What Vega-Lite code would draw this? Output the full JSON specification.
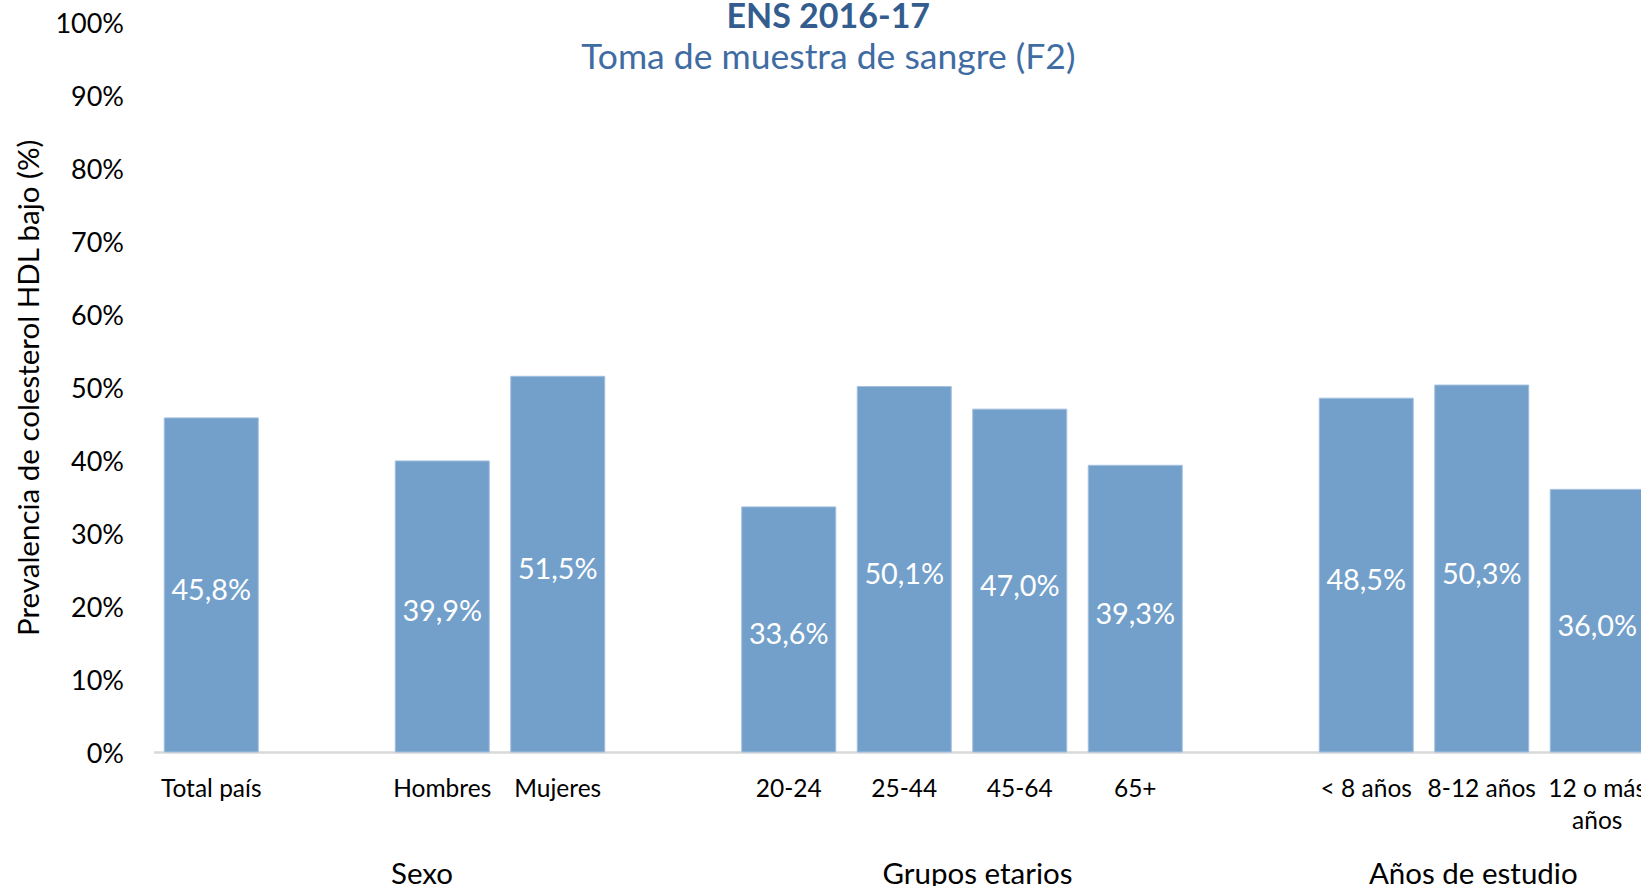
{
  "$schema": "https://vega.github.io/schema/vega-lite/v6.json",
  "autosize": {"type": "none"},
  "width": 1487.5,
  "height": 729.5,
  "padding": {"left": 153.5, "top": 22.5, "right": 0, "bottom": 134},
  "background": "white",
  "config": {
    "locale": {"number": {"decimal": ",", "thousands": ".", "grouping": [3], "currency": ["", " €"]}},
    "view": {"stroke": null},
    "font": "Lato"
  },
  "title": {
    "text": "ENS 2016-17",
    "subtitle": "Toma de muestra de sangre (F2)",
    "anchor": "middle",
    "frame": "group",
    "dx": -69,
    "offset": -66,
    "font": "Lato",
    "fontSize": 34,
    "fontWeight": "bold",
    "color": "#335d8f",
    "subtitleFont": "Lato",
    "subtitleFontSize": 35.5,
    "subtitleColor": "#3f6ca2",
    "subtitlePadding": 6
  },
  "datasets": {
    "barras": [
      {"categoria": "Total país", "valor": 0.458},
      {"categoria": "Hombres", "valor": 0.399},
      {"categoria": "Mujeres", "valor": 0.515},
      {"categoria": "20-24", "valor": 0.336},
      {"categoria": "25-44", "valor": 0.501},
      {"categoria": "45-64", "valor": 0.470},
      {"categoria": "65+", "valor": 0.393},
      {"categoria": "< 8 años", "valor": 0.485},
      {"categoria": "8-12 años", "valor": 0.503},
      {"categoria": "12 o más años", "valor": 0.360}
    ],
    "grupos": [
      {"categoria": "Hombres", "grupo": "Sexo"},
      {"categoria": "45-64", "grupo": "Grupos etarios"},
      {"categoria": "8-12 años", "grupo": "Años de estudio"}
    ]
  },
  "layer": [
    {
      "data": {"name": "barras"},
      "mark": {"type": "bar", "color": "#73a0ca", "stroke": "#a3c0df", "strokeWidth": 1},
      "encoding": {
        "x": {
          "field": "categoria", "type": "nominal", "sort": null,
          "scale": {"domain": ["Total país", "hueco1", "Hombres", "Mujeres", "hueco2", "20-24", "25-44", "45-64", "65+", "hueco3", "< 8 años", "8-12 años", "12 o más años"], "range": [0, 1501.5], "paddingInner": 0.186, "paddingOuter": 0.093},
          "axis": {
            "title": null, "ticks": false, "domainColor": "#d9d9d9", "domainWidth": 2.5,
            "labelAngle": 0, "labelFont": "Lato", "labelFontSize": 24.5, "labelColor": "black",
            "labelPadding": 25, "labelLineHeight": 32, "labelOverlap": false, "labelLimit": 0,
            "labelExpr": "indexof(datum.value, 'hueco') == 0 ? '' : (datum.value == '12 o más años' ? ['12 o más', 'años'] : datum.value)"
          }
        },
        "y": {
          "field": "valor", "type": "quantitative",
          "scale": {"domain": [0, 1], "nice": false},
          "axis": {
            "title": "Prevalencia de colesterol HDL bajo (%)", "titleFont": "Lato", "titleFontSize": 29.5,
            "titleFontWeight": "normal", "titleColor": "black", "titlePadding": 10,
            "format": ".0%", "values": [0, 0.1, 0.2, 0.3, 0.4, 0.5, 0.6, 0.7, 0.8, 0.9, 1],
            "grid": false, "domain": false, "ticks": false, "tickSize": 0, "labelOffset": 2,
            "labelFont": "Lato", "labelFontSize": 27, "labelColor": "black", "labelPadding": 30
          }
        }
      }
    },
    {
      "data": {"name": "barras"},
      "mark": {"type": "text", "color": "white", "fontSize": 28.8, "font": "Lato", "baseline": "middle", "dy": 6},
      "encoding": {
        "x": {"field": "categoria", "type": "nominal", "sort": null,
          "scale": {"domain": ["Total país", "hueco1", "Hombres", "Mujeres", "hueco2", "20-24", "25-44", "45-64", "65+", "hueco3", "< 8 años", "8-12 años", "12 o más años"]}},
        "y": {"field": "valor", "type": "quantitative", "scale": {"domain": [0, 2], "nice": false}, "axis": null},
        "text": {"field": "valor", "type": "quantitative", "format": ".1%"}
      }
    },
    {
      "data": {"name": "grupos"},
      "transform": [{"filter": "datum.grupo == 'Sexo'"}],
      "mark": {"type": "text", "color": "black", "fontSize": 29.5, "font": "Lato", "baseline": "alphabetic"},
      "encoding": {
        "x": {"field": "categoria", "type": "nominal", "sort": null, "bandPosition": 0.285,
          "scale": {"domain": ["Total país", "hueco1", "Hombres", "Mujeres", "hueco2", "20-24", "25-44", "45-64", "65+", "hueco3", "< 8 años", "8-12 años", "12 o más años"]}},
        "y": {"datum": -0.181, "type": "quantitative", "scale": {"domain": [0, 1], "nice": false}, "axis": null},
        "text": {"field": "grupo"}
      }
    },
    {
      "data": {"name": "grupos"},
      "transform": [{"filter": "datum.grupo == 'Grupos etarios'"}],
      "mark": {"type": "text", "color": "black", "fontSize": 29.5, "font": "Lato", "baseline": "alphabetic"},
      "encoding": {
        "x": {"field": "categoria", "type": "nominal", "sort": null, "bandPosition": 0.05,
          "scale": {"domain": ["Total país", "hueco1", "Hombres", "Mujeres", "hueco2", "20-24", "25-44", "45-64", "65+", "hueco3", "< 8 años", "8-12 años", "12 o más años"]}},
        "y": {"datum": -0.181, "type": "quantitative", "scale": {"domain": [0, 1], "nice": false}, "axis": null},
        "text": {"field": "grupo"}
      }
    },
    {
      "data": {"name": "grupos"},
      "transform": [{"filter": "datum.grupo == 'Años de estudio'"}],
      "mark": {"type": "text", "color": "black", "fontSize": 29.5, "font": "Lato", "baseline": "alphabetic"},
      "encoding": {
        "x": {"field": "categoria", "type": "nominal", "sort": null, "bandPosition": 0.41,
          "scale": {"domain": ["Total país", "hueco1", "Hombres", "Mujeres", "hueco2", "20-24", "25-44", "45-64", "65+", "hueco3", "< 8 años", "8-12 años", "12 o más años"]}},
        "y": {"datum": -0.181, "type": "quantitative", "scale": {"domain": [0, 1], "nice": false}, "axis": null},
        "text": {"field": "grupo"}
      }
    }
  ],
  "resolve": {"scale": {"y": "independent"}}
}
